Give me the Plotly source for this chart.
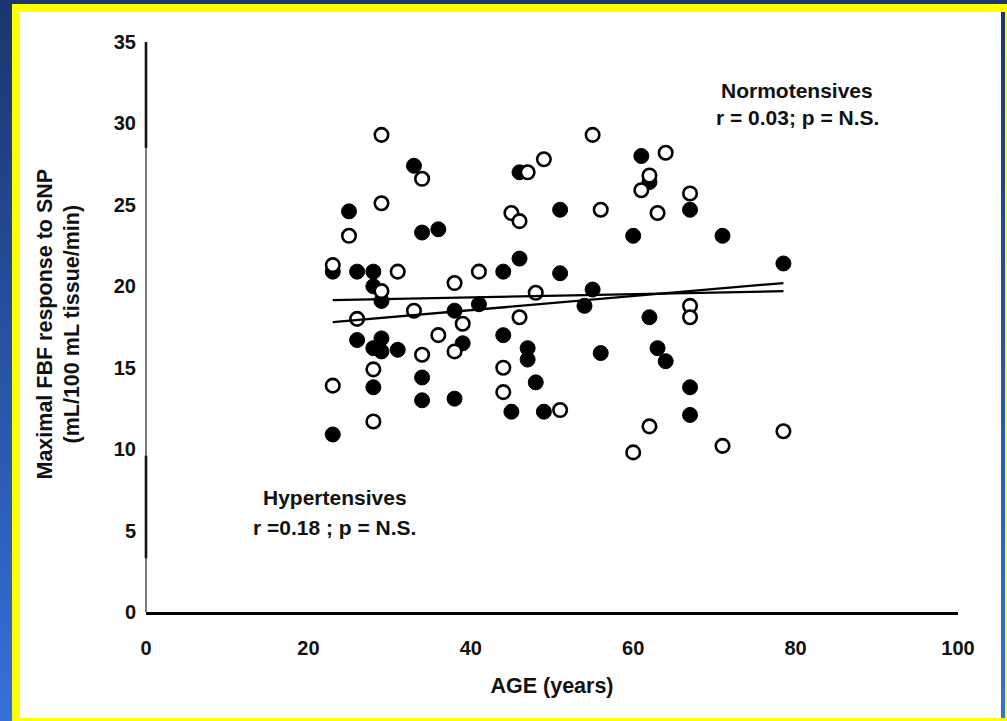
import plotly.graph_objects as go

# ---- data -------------------------------------------------------------
# Normotensives (open circles)
normo_age = [29, 34, 29, 25, 23, 31, 29, 26, 33, 38, 41, 36, 39, 34, 38, 28, 23, 28,
             44, 44, 45, 46, 47, 49, 48, 46, 51, 55, 56, 61, 62, 63, 64, 67, 67, 67,
             60, 62, 71, 78.5]
normo_fbf = [29.3, 26.6, 25.1, 23.1, 21.3, 20.9, 19.7, 18.0, 18.5, 20.2, 20.9, 17.0,
             17.7, 15.8, 16.0, 14.9, 13.9, 11.7, 15.0, 13.5, 24.5, 24.0, 27.0, 27.8,
             19.6, 18.1, 12.4, 29.3, 24.7, 25.9, 26.8, 24.5, 28.2, 25.7, 18.8, 18.1,
             9.8, 11.4, 10.2, 11.1]

# Hypertensives (filled circles)
hyper_age = [33, 25, 34, 36, 23, 26, 28, 28, 29, 44, 46, 46, 38, 41, 26, 29, 28, 29,
             31, 39, 44, 47, 47, 28, 34, 34, 38, 48, 45, 49, 23, 51, 51, 55, 54, 61,
             62, 60, 67, 71, 78.5, 62, 56, 63, 64, 67, 67]
hyper_fbf = [27.4, 24.6, 23.3, 23.5, 20.9, 20.9, 20.9, 20.0, 19.1, 20.9, 21.7, 27.0,
             18.5, 18.9, 16.7, 16.8, 16.2, 16.0, 16.1, 16.5, 17.0, 16.2, 15.5, 13.8,
             14.4, 13.0, 13.1, 14.1, 12.3, 12.3, 10.9, 24.7, 20.8, 19.8, 18.8, 28.0,
             26.4, 23.1, 24.7, 23.1, 21.4, 18.1, 15.9, 16.2, 15.4, 13.8, 12.1]

# Regression lines (end points of each fitted line)
fit_age = [23, 78.5]
normo_fit = [19.15, 19.7]
hyper_fit = [17.8, 20.2]

x_ticks = [0, 20, 40, 60, 80, 100]
y_ticks = [0, 5, 10, 15, 20, 25, 30, 35]

# ---- page geometry (pixels) -------------------------------------------
W, H = 1007, 721
L, R, T, B = 146, 49, 42, 109
PW, PH = W - L - R, H - T - B


def px(x):
    return (x - L) / PW


def py(y):
    return (H - B - y) / PH


def rect(x0, y0, x1, y1, color):
    return dict(type="rect", xref="paper", yref="paper",
                x0=px(x0), x1=px(x1), y0=py(y1), y1=py(y0),
                fillcolor=color, line=dict(width=0), layer="below")


shapes = []
# vertical blue gradient behind the slide
top_rgb, bot_rgb = (27, 54, 112), (54, 112, 218)
n_bands = 90
for i in range(n_bands):
    t = i / (n_bands - 1)
    c = tuple(round(a + (b - a) * t) for a, b in zip(top_rgb, bot_rgb))
    y0 = i * H / n_bands
    shapes.append(rect(0, y0, W, y0 + H / n_bands + 1, "rgb(%d,%d,%d)" % c))

# yellow frame and white panel
YEL = "#ffff00"
shapes += [
    rect(12, 4, W, 12, YEL),
    rect(12, 4, 20, H, YEL),
    rect(12, 718, W, H, YEL),
    rect(1005, 4, W, H, YEL),
    rect(20, 12, 1001, 718, "#ffffff"),
]


def yline(v0, v1, width, color):
    return dict(type="line", xref="paper", yref="paper", x0=0, x1=0,
                y0=v0 / 35, y1=v1 / 35, line=dict(color=color, width=width),
                layer="above")


# y axis line: heavy ink at the ends, lighter through the middle
shapes += [
    yline(0, 35, 1.4, "#444444"),
    yline(28.5, 35, 2.6, "#111111"),
    yline(3.3, 9.6, 2.6, "#111111"),
]

FONT = "Liberation Sans, Arial, sans-serif"
INK = "#111111"

fig = go.Figure()

fig.add_trace(go.Scatter(
    x=hyper_age, y=hyper_fbf, mode="markers", name="Hypertensives",
    marker=dict(symbol="circle", size=15, color="#000000",
                line=dict(color="#000000", width=1)),
))
fig.add_trace(go.Scatter(
    x=normo_age, y=normo_fbf, mode="markers", name="Normotensives",
    marker=dict(symbol="circle", size=13.5, color="#ffffff",
                line=dict(color="#000000", width=2.6)),
))
fig.add_trace(go.Scatter(
    x=fit_age, y=normo_fit, mode="lines", name="Normotensives fit",
    line=dict(color="#000000", width=2.3),
))
fig.add_trace(go.Scatter(
    x=fit_age, y=hyper_fit, mode="lines", name="Hypertensives fit",
    line=dict(color="#000000", width=2.3),
))

ann_font = dict(family=FONT, size=21, color=INK)
annotations = [
    dict(x=80.2, y=32.0, text="<b>Normotensives</b>"),
    dict(x=80.2, y=30.35, text="<b>r = 0.03; p = N.S.</b>"),
    dict(x=23.3, y=7.05, text="<b>Hypertensives</b>"),
    dict(x=23.2, y=5.2, text="<b>r =0.18 ; p = N.S.</b>"),
]
for a in annotations:
    a.update(xref="x", yref="y", showarrow=False, font=ann_font,
             xanchor="center", yanchor="middle")

# rotated two-line y axis title
annotations.append(dict(
    xref="paper", yref="paper", x=px(58.5), y=py(324),
    text="<b>Maximal FBF response to SNP<br>(mL/100 mL tissue/min)</b>",
    textangle=-90, showarrow=False, xanchor="center", yanchor="middle",
    font=dict(family=FONT, size=21.5, color=INK),
))

fig.update_layout(
    width=W, height=H,
    margin=dict(l=L, r=R, t=T, b=B, pad=0),
    paper_bgcolor="#ffffff",
    plot_bgcolor="rgba(0,0,0,0)",
    showlegend=False,
    shapes=shapes,
    annotations=annotations,
    font=dict(family=FONT, color=INK),
    xaxis=dict(
        range=[0, 100], tickvals=x_ticks, ticktext=[f"<b>{v}</b>" for v in x_ticks],
        showgrid=False, zeroline=False, showline=True, linecolor="#000000",
        linewidth=2.6, ticks="", ticklabelstandoff=16,
        tickfont=dict(family=FONT, size=20, color=INK),
        title=dict(text="<b>AGE (years)</b>", standoff=21,
                   font=dict(family=FONT, size=21.5, color=INK)),
    ),
    yaxis=dict(
        range=[0, 35], tickvals=y_ticks, ticktext=[f"<b>{v}</b>" for v in y_ticks],
        showgrid=False, zeroline=False, showline=False,
        ticks="", ticklabelstandoff=9,
        tickfont=dict(family=FONT, size=20, color=INK),
    ),
)

fig.write_html("out.html")
